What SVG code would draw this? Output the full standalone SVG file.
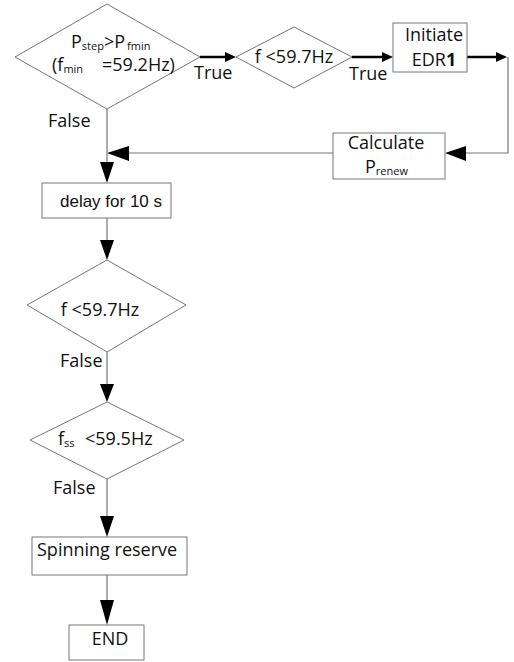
<svg xmlns="http://www.w3.org/2000/svg" width="514" height="662" viewBox="0 0 514 662">
<style>
.shape{fill:#fff;stroke:#777;stroke-width:1}
.ln{fill:none;stroke:#777;stroke-width:1.2}
.thick{fill:none;stroke:#000;stroke-width:2.5}
.t{font-family:"Open Sans",sans-serif;font-size:18px;fill:#111}
.a{font-family:"Liberation Sans",Arial,sans-serif;font-size:17px;fill:#111}
.s{font-size:11px}
.ah{fill:#000}
</style>
<rect width="514" height="662" fill="#fff"/>
<g id="connectors">
<line class="thick" x1="200" y1="57" x2="228" y2="57"/>
<polygon class="ah" points="236,57 225,52 225,62"/>
<line class="thick" x1="352" y1="57" x2="385" y2="57"/>
<polygon class="ah" points="393,57 382,52 382,62"/>
<line class="thick" x1="467" y1="57" x2="499" y2="57"/>
<polygon class="ah" points="507,57 496,52 496,62"/>
<polyline class="ln" points="508,57 508,153 465,153"/>
<polygon class="ah" points="445,153 466,146 466,161"/>
<line class="ln" x1="333" y1="153" x2="128" y2="153"/>
<polygon class="ah" points="107,153 129,146 129,161"/>
<line class="ln" x1="107" y1="109" x2="107" y2="165"/>
<polygon class="ah" points="107,183 100,162 114,162"/>
<line class="ln" x1="107" y1="218" x2="107" y2="242"/>
<polygon class="ah" points="107,260 100,240 114,240"/>
<line class="ln" x1="107" y1="352" x2="107" y2="386"/>
<polygon class="ah" points="107,402 100,384 114,384"/>
<line class="ln" x1="107" y1="479" x2="107" y2="518"/>
<polygon class="ah" points="107,537 100,516 114,516"/>
<line class="ln" x1="107" y1="575" x2="107" y2="602"/>
<polygon class="ah" points="107,625 100,600 114,600"/>
<text class="t" x="194" y="79">True</text>
<text class="t" x="349" y="80">True</text>
<text class="t" x="48" y="127">False</text>
<text class="t" x="60" y="367">False</text>
<text class="t" x="53" y="494">False</text>
</g>
<g id="d1">
<polygon class="shape" points="107,4 200,57 107,109 15,57"/>
<text class="t" x="71" y="48">P<tspan class="s" dy="2">step</tspan><tspan dy="-2">&gt;P</tspan><tspan class="s" x="127" dy="2">fmin</tspan></text>
<text class="t" x="52" y="71" font-size="19">(f<tspan class="s" font-size="12" dy="2">min</tspan><tspan x="102" dy="-2">=59.2Hz)</tspan></text>
</g>
<g id="d2">
<polygon class="shape" points="294,27 352,57 294,88 236,57"/>
<text class="t" x="294" y="63" text-anchor="middle">f &lt;59.7Hz</text>
</g>
<g id="initiate">
<rect class="shape" x="393" y="23" width="74" height="49"/>
<text class="t" x="434" y="41" text-anchor="middle">Initiate</text>
<text class="t" x="434" y="66" text-anchor="middle">EDR<tspan font-weight="bold">1</tspan></text>
</g>
<g id="calculate">
<rect class="shape" x="333" y="133" width="112" height="46"/>
<text class="t" x="386" y="149" text-anchor="middle">Calculate</text>
<text class="t" x="365" y="173">P<tspan class="s" dy="2">renew</tspan></text>
</g>
<g id="delay">
<rect class="shape" x="42" y="183" width="129" height="35"/>
<text class="a" x="111" y="207" text-anchor="middle">delay for 10 s</text>
</g>
<g id="d3">
<polygon class="shape" points="107,260 186,305 107,352 27,305"/>
<text class="t" x="100" y="316" text-anchor="middle">f &lt;59.7Hz</text>
</g>
<g id="d4">
<polygon class="shape" points="107,402 184,440 107,479 30,440"/>
<text class="t" x="58" y="445">f<tspan class="s" dy="2">ss</tspan><tspan x="85" dy="-2">&lt;59.5Hz</tspan></text>
</g>
<g id="spinning">
<rect class="shape" x="32" y="537" width="155" height="38"/>
<text class="t" x="37" y="556">Spinning reserve</text>
</g>
<g id="end">
<rect class="shape" x="69" y="625" width="75" height="35"/>
<text class="t" x="110" y="645" text-anchor="middle">END</text>
</g>
</svg>
